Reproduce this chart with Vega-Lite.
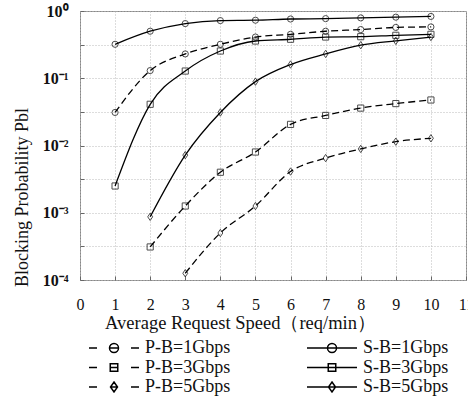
{
  "$schema": "https://vega.github.io/schema/vega-lite/v6.json",
  "autosize": {"type": "none"},
  "padding": {"left": 80, "top": 11, "right": 2, "bottom": 121},
  "width": 386,
  "height": 269,
  "background": "white",
  "config": {
    "view": {"stroke": "#888", "strokeWidth": 1},
    "font": "Liberation Serif"
  },
  "data": {
    "values": [
      {"x": 1, "y": 0.32, "series": "S-B=1Gbps"},
      {"x": 2, "y": 0.50, "series": "S-B=1Gbps"},
      {"x": 3, "y": 0.65, "series": "S-B=1Gbps"},
      {"x": 4, "y": 0.72, "series": "S-B=1Gbps"},
      {"x": 5, "y": 0.73, "series": "S-B=1Gbps"},
      {"x": 6, "y": 0.76, "series": "S-B=1Gbps"},
      {"x": 7, "y": 0.77, "series": "S-B=1Gbps"},
      {"x": 8, "y": 0.79, "series": "S-B=1Gbps"},
      {"x": 9, "y": 0.81, "series": "S-B=1Gbps"},
      {"x": 10, "y": 0.83, "series": "S-B=1Gbps"},
      {"x": 1, "y": 0.031, "series": "P-B=1Gbps"},
      {"x": 2, "y": 0.13, "series": "P-B=1Gbps"},
      {"x": 3, "y": 0.23, "series": "P-B=1Gbps"},
      {"x": 4, "y": 0.32, "series": "P-B=1Gbps"},
      {"x": 5, "y": 0.41, "series": "P-B=1Gbps"},
      {"x": 6, "y": 0.45, "series": "P-B=1Gbps"},
      {"x": 7, "y": 0.50, "series": "P-B=1Gbps"},
      {"x": 8, "y": 0.53, "series": "P-B=1Gbps"},
      {"x": 9, "y": 0.57, "series": "P-B=1Gbps"},
      {"x": 10, "y": 0.58, "series": "P-B=1Gbps"},
      {"x": 1, "y": 0.0025, "series": "S-B=3Gbps"},
      {"x": 2, "y": 0.041, "series": "S-B=3Gbps"},
      {"x": 3, "y": 0.128, "series": "S-B=3Gbps"},
      {"x": 4, "y": 0.254, "series": "S-B=3Gbps"},
      {"x": 5, "y": 0.358, "series": "S-B=3Gbps"},
      {"x": 6, "y": 0.38, "series": "S-B=3Gbps"},
      {"x": 7, "y": 0.41, "series": "S-B=3Gbps"},
      {"x": 8, "y": 0.415, "series": "S-B=3Gbps"},
      {"x": 9, "y": 0.435, "series": "S-B=3Gbps"},
      {"x": 10, "y": 0.45, "series": "S-B=3Gbps"},
      {"x": 2, "y": 0.00087, "series": "S-B=5Gbps"},
      {"x": 3, "y": 0.0072, "series": "S-B=5Gbps"},
      {"x": 4, "y": 0.031, "series": "S-B=5Gbps"},
      {"x": 5, "y": 0.089, "series": "S-B=5Gbps"},
      {"x": 6, "y": 0.16, "series": "S-B=5Gbps"},
      {"x": 7, "y": 0.23, "series": "S-B=5Gbps"},
      {"x": 8, "y": 0.31, "series": "S-B=5Gbps"},
      {"x": 9, "y": 0.36, "series": "S-B=5Gbps"},
      {"x": 10, "y": 0.41, "series": "S-B=5Gbps"},
      {"x": 2, "y": 0.00031, "series": "P-B=3Gbps"},
      {"x": 3, "y": 0.00126, "series": "P-B=3Gbps"},
      {"x": 4, "y": 0.004, "series": "P-B=3Gbps"},
      {"x": 5, "y": 0.008, "series": "P-B=3Gbps"},
      {"x": 6, "y": 0.0206, "series": "P-B=3Gbps"},
      {"x": 7, "y": 0.028, "series": "P-B=3Gbps"},
      {"x": 8, "y": 0.036, "series": "P-B=3Gbps"},
      {"x": 9, "y": 0.042, "series": "P-B=3Gbps"},
      {"x": 10, "y": 0.0475, "series": "P-B=3Gbps"},
      {"x": 3, "y": 0.000126, "series": "P-B=5Gbps"},
      {"x": 4, "y": 0.0005, "series": "P-B=5Gbps"},
      {"x": 5, "y": 0.00126, "series": "P-B=5Gbps"},
      {"x": 6, "y": 0.0041, "series": "P-B=5Gbps"},
      {"x": 7, "y": 0.0065, "series": "P-B=5Gbps"},
      {"x": 8, "y": 0.0089, "series": "P-B=5Gbps"},
      {"x": 9, "y": 0.0114, "series": "P-B=5Gbps"},
      {"x": 10, "y": 0.0128, "series": "P-B=5Gbps"}
    ]
  },
  "encoding": {
    "x": {
      "field": "x", "type": "quantitative",
      "scale": {"domain": [0, 11], "nice": false, "zero": false},
      "axis": {
        "values": [0,1,2,3,4,5,6,7,8,9,10,11],
        "title": "Average Request Speed（req/min）",
        "titleFont": "Liberation Serif", "titleFontSize": 18.5, "titleFontWeight": "normal", "titleColor": "#111",
        "titleX": 160, "titleY": 42, "titleAnchor": null, "titleAlign": "center", "titleBaseline": "middle",
        "labelFont": "Liberation Serif", "labelFontSize": 16, "labelColor": "#111",
        "labelFlush": false, "labelOverlap": false, "labelPadding": 20,
        "tickSize": -4, "tickColor": "#666", "domain": false,
        "grid": true, "gridColor": "#bbb", "gridDash": [1, 2]
      }
    },
    "y": {
      "field": "y", "type": "quantitative",
      "scale": {"type": "log", "domain": [0.0001, 1], "nice": false},
      "axis": {
        "values": [0.0001, 0.000316, 0.001, 0.00316, 0.01, 0.0316, 0.1, 0.316, 1],
        "labelExpr": "datum.value==1?'10⁰':datum.value==0.1?'10⁻¹':datum.value==0.01?'10⁻²':datum.value==0.001?'10⁻³':datum.value==0.0001?'10⁻⁴':''",
        "title": "Blocking Probability Pbl",
        "titleFont": "Liberation Serif", "titleFontSize": 18, "titleFontWeight": "normal", "titleColor": "#111",
        "titleAngle": 270, "titleX": -58, "titleY": 186, "titleAlign": "center", "titleBaseline": "middle",
        "labelFont": "Liberation Serif", "labelFontSize": 16, "labelFontWeight": "bold", "labelColor": "#111",
        "labelPadding": 16, "labelOverlap": false,
        "tickSize": -4, "tickColor": "#666", "domain": false,
        "grid": true, "gridColor": "#bbb", "gridDash": [1, 2]
      }
    }
  },
  "resolve": {"scale": {"shape": "independent"}, "legend": {"shape": "independent"}},
  "layer": [
    {
      "transform": [{"filter": "indexof(datum.series, 'P') == 0"}],
      "mark": {"type": "line", "color": "black", "strokeWidth": 1.3, "interpolate": "monotone", "strokeDash": [7, 4]},
      "encoding": {"detail": {"field": "series"}}
    },
    {
      "transform": [{"filter": "indexof(datum.series, 'S') == 0"}],
      "mark": {"type": "line", "color": "black", "strokeWidth": 1.3, "interpolate": "monotone"},
      "encoding": {"detail": {"field": "series"}}
    },
    {
      "mark": {"type": "point", "filled": false, "color": "black", "strokeWidth": 1, "size": 38},
      "encoding": {
        "shape": {
          "field": "series", "type": "nominal",
          "scale": {
            "domain": ["P-B=1Gbps","P-B=3Gbps","P-B=5Gbps","S-B=1Gbps","S-B=3Gbps","S-B=5Gbps"],
            "range": ["circle","square","M0,-1.2L0.8,0L0,1.2L-0.8,0Z","circle","square","M0,-1.2L0.8,0L0,1.2L-0.8,0Z"]
          },
          "legend": null
        }
      }
    },
    {
      "mark": {"type": "point", "filled": false, "color": "black", "strokeWidth": 1.5, "opacity": 0},
      "encoding": {
        "shape": {
          "field": "series", "type": "nominal",
          "scale": {
            "domain": ["P-B=1Gbps","P-B=3Gbps","P-B=5Gbps","S-B=1Gbps","S-B=3Gbps","S-B=5Gbps"],
            "range": [
              "M-1.6,0H0M2.5,0H4.3M6.8,0H8.4M2.5,0A0.9,0.9 0 1,0 4.3,0A0.9,0.9 0 1,0 2.5,0",
              "M-1.6,0H0M2.65,0H4.15M6.8,0H8.4M2.65,-0.75H4.15V0.75H2.65Z",
              "M-1.6,0H0M2.7,0H4.1M6.8,0H8.4M3.4,-1L4.1,0L3.4,1L2.7,0Z",
              "M-1.6,0H8.4M2.5,0A0.9,0.9 0 1,0 4.3,0A0.9,0.9 0 1,0 2.5,0",
              "M-1.6,0H8.4M2.65,-0.75H4.15V0.75H2.65Z",
              "M-1.6,0H8.4M3.4,-1L4.1,0L3.4,1L2.7,0Z"
            ]
          },
          "legend": {
            "title": null,
            "orient": "none",
            "legendX": 8,
            "legendY": 328,
            "columns": 2,
            "columnPadding": 73,
            "rowPadding": 1.5,
            "padding": 0,
            "symbolSize": 100,
            "symbolStrokeWidth": 1.5,
            "symbolStrokeColor": "black",
            "symbolOpacity": 1,
            "labelOffset": 39,
            "labelFont": "Liberation Serif",
            "labelFontSize": 18,
            "labelColor": "#111",
            "labelLimit": 200
          }
        }
      }
    }
  ]
}
